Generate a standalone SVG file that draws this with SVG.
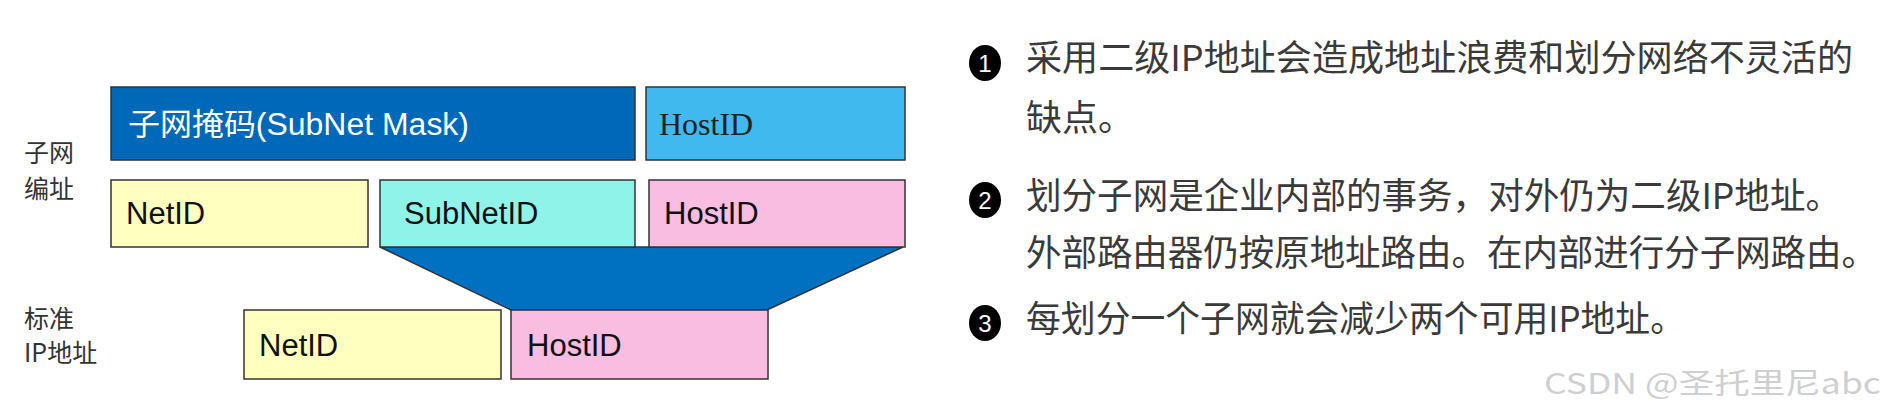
<svg xmlns="http://www.w3.org/2000/svg" width="1887" height="413" viewBox="0 0 1887 413">
<style>
.box{stroke:#333;stroke-width:1.5}
.lat{font-family:"Liberation Sans","Noto Sans CJK SC",sans-serif;font-size:31px;fill:#111}
.ser{font-family:"Liberation Serif","Noto Sans CJK SC",serif;font-size:32px;fill:#222}
.lbl{font-family:"Noto Sans CJK SC",sans-serif;font-size:25px;fill:#333}
.txt{font-family:"Noto Sans CJK SC",sans-serif;font-size:36px;fill:#3a3a3a}
.num{font-family:"Liberation Sans",sans-serif;font-size:24px;fill:#fff;text-anchor:middle}
.wm{font-family:"Noto Sans CJK SC",sans-serif;font-size:29px;fill:#cfcfcf}
</style>
<rect width="1887" height="413" fill="#fff"/>
<g id="connectors">
<polygon points="380,247 903,247 767,310 511,310" fill="#0070c0" stroke="#333" stroke-width="1.5"/>
</g>
<g id="mask"><rect class="box" x="111" y="87" width="524" height="73" fill="#0068b8"/><text class="lat" x="128" y="135" style="fill:#fff" textLength="341" lengthAdjust="spacingAndGlyphs">子网掩码(SubNet Mask)</text></g>
<g id="hostTop"><rect class="box" x="646" y="87" width="259" height="73" fill="#3fb9ee"/><text class="ser" x="659" y="135">HostID</text></g>
<g id="net1"><rect class="box" x="111" y="180" width="257" height="67" fill="#ffffbf"/><text class="lat" x="126" y="224">NetID</text></g>
<g id="subnet"><rect class="box" x="380" y="180" width="255" height="67" fill="#8ff3e9"/><text class="lat" x="404" y="224">SubNetID</text></g>
<g id="host1"><rect class="box" x="649" y="180" width="256" height="67" fill="#fabde2"/><text class="lat" x="664" y="224">HostID</text></g>
<g id="net2"><rect class="box" x="244" y="310" width="257" height="69" fill="#ffffbf"/><text class="lat" x="259" y="356">NetID</text></g>
<g id="host2"><rect class="box" x="511" y="310" width="257" height="69" fill="#fabde2"/><text class="lat" x="527" y="356">HostID</text></g>
<g id="labels">
<text class="lbl" x="24" y="162">子网</text>
<text class="lbl" x="24" y="198">编址</text>
<text class="lbl" x="24" y="328">标准</text>
<text class="lbl" x="24" y="362">IP地址</text>
</g>
<g id="notes">
<ellipse cx="985" cy="63" rx="16" ry="18" fill="#000"/><text class="num" x="985" y="72">1</text>
<text class="txt" x="1026" y="71" textLength="827" lengthAdjust="spacingAndGlyphs">采用二级IP地址会造成地址浪费和划分网络不灵活的</text>
<text class="txt" x="1026" y="131">缺点。</text>
<ellipse cx="985" cy="200" rx="16" ry="18" fill="#000"/><text class="num" x="985" y="209">2</text>
<text class="txt" x="1026" y="209" textLength="815" lengthAdjust="spacingAndGlyphs">划分子网是企业内部的事务，对外仍为二级IP地址。</text>
<text class="txt" x="1026" y="266" textLength="851" lengthAdjust="spacingAndGlyphs">外部路由器仍按原地址路由。在内部进行分子网路由。</text>
<ellipse cx="985" cy="323" rx="16" ry="18" fill="#000"/><text class="num" x="985" y="332">3</text>
<text class="txt" x="1026" y="332" textLength="659" lengthAdjust="spacingAndGlyphs">每划分一个子网就会减少两个可用IP地址。</text>
<text class="wm" x="1544" y="394" textLength="337" lengthAdjust="spacingAndGlyphs">CSDN @圣托里尼abc</text>
</g>
</svg>
